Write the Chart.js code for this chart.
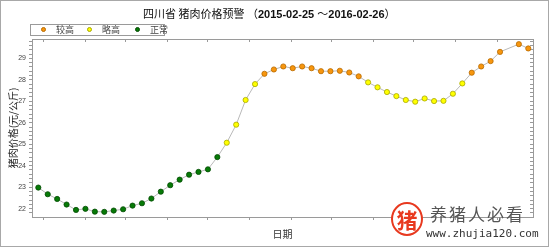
<!DOCTYPE html>
<html><head><meta charset="utf-8">
<script src="https://cdn.jsdelivr.net/npm/chart.js@4/dist/chart.umd.min.js"></script>
<style>
html,body{margin:0;padding:0;background:#fff;}
#wrap{position:relative;width:549px;height:247px;overflow:hidden;background:#fff;}
#c{position:absolute;left:0;top:0;}
#frame{position:absolute;left:0;top:0;width:547px;height:245px;border:1px solid #a8a8a8;pointer-events:none;}
#title{position:absolute;left:143px;top:5px;white-space:nowrap;font-size:11px;line-height:16px;color:#111;}
#title .cn{font-family:"Noto Sans CJK SC";}
#title .en{font-family:"Liberation Sans",Arial,sans-serif;font-weight:bold;}
#legend{position:absolute;left:30px;top:24px;width:133px;height:10px;border:1px solid #9a9a9a;}
.li{position:absolute;top:-3px;font-family:"Noto Sans CJK SC";font-size:9px;line-height:16px;color:#444;white-space:nowrap;}
.dot{position:absolute;top:2px;width:5px;height:5px;border-radius:50%;box-sizing:border-box;border:1px solid;}
#wm-circle{position:absolute;left:391px;top:202px;width:28px;height:30px;border:2px solid #e8391f;border-radius:50%;background:#fff;color:#e8391f;font-family:"Noto Sans CJK SC";font-weight:bold;font-size:21px;line-height:30px;text-align:center;}
#wm-cn{position:absolute;left:430px;top:203px;font-family:"Noto Sans CJK SC";font-size:17px;line-height:22px;letter-spacing:2px;color:#555;white-space:nowrap;}
#wm-url{position:absolute;left:426px;top:227px;font-family:"DejaVu Sans Mono",monospace;font-size:11px;line-height:14px;color:#333;white-space:nowrap;}
</style></head>
<body>
<div id="wrap">
<canvas id="c" width="549" height="247"></canvas>
<div id="title"><span class="cn">四川省 猪肉价格预警 （</span><span class="en">2015-02-25 </span><span class="cn">～</span><span class="en">2016-02-26</span><span class="cn">）</span></div>
<div id="legend"></div>
<div id="wm-circle">猪</div>
<div id="wm-cn">养猪人必看</div>
<div id="wm-url">www.zhujia120.com</div>
<div id="frame"></div>
</div>
<script>
// ---- data (weekly, 2015-02-25 .. 2016-02-26; one week missing at Spring Festival) ----
const prices = [22.98,22.67,22.45,22.19,21.94,21.99,21.86,21.85,21.91,21.97,
                22.14,22.25,22.47,22.79,23.09,23.35,23.58,23.71,23.83,24.40,
                25.07,25.91,27.06,27.80,28.28,28.48,28.62,28.54,28.62,28.54,
                28.40,28.40,28.42,28.34,28.16,27.88,27.65,27.43,27.24,27.06,
                26.98,27.13,27.01,27.02,27.35,27.83,28.33,28.62,28.87,29.30,
                null,29.66,29.46];
// warning level of each week: 0 = 较高, 1 = 略高, 2 = 正常
const levels = [2,2,2,2,2,2,2,2,2,2,
                2,2,2,2,2,2,2,2,2,2,
                1,1,1,1,0,0,0,0,0,0,
                0,0,0,0,0,1,1,1,1,1,
                1,1,1,1,1,1,0,0,0,0,
                0,0,0];
const levelNames = ['较高','略高','正常'];
const levelFill = ['#F7960E','#FFFF00','#077A07'];
const levelEdge = ['#B86A00','#A8A800','#034A03'];
// month boundaries (1st of each month) in weeks from 2015-02-25
const monthTicks = [0.571,5,9.286,13.714,18,22.429,26.857,31.143,35.571,39.857,44.286,48.714];
const yLabelTicks = [22,23,24,25,26,27,28,29];
const yMinorTicks = [21.8,22,22.2,22.4,22.6,22.8,23,23.2,23.4,23.6,23.8,24,24.2,24.4,24.6,24.8,25,25.2,25.4,25.6,25.8,26,26.2,26.4,26.6,26.8,27,27.2,27.4,27.6,27.8,28,28.2,28.4,28.6,28.8,29,29.2,29.4,29.6,29.8];

// legend
const lg = document.getElementById('legend');
const lgX = [8, 54, 102];
levelNames.forEach((n,i)=>{
  const d = document.createElement('div'); d.className='dot';
  d.style.left = (lgX[i]+2)+'px'; d.style.background = levelFill[i]; d.style.borderColor = levelEdge[i];
  lg.appendChild(d);
  const t = document.createElement('div'); t.className='li'; t.textContent=n;
  t.style.left = (lgX[i]+17)+'px'; lg.appendChild(t);
});

const pts = prices.map((v,i)=>({x:i,y:v}));
const axisColor = '#9a9a9a';
const tickFont = {family:'"Liberation Sans", Arial, sans-serif', size:7};
function xAxis(pos, len){
  return {type:'linear', position:pos, min:-0.67, max:52.5,
    afterBuildTicks: s => { s.ticks = monthTicks.map(v=>({value:v})); },
    afterFit: s => { s.height = pos==='bottom' ? 30 : 39; },
    ticks:{callback:()=> '', autoSkip:false, padding:0, font:tickFont},
    grid:{drawOnChartArea:false, drawTicks:true, tickLength:len, tickColor:axisColor},
    border:{display:true, color:axisColor},
    title: pos==='bottom' ? {display:true, text:'日期', color:'#333', font:{family:'"Noto Sans CJK SC"', size:10}, padding:{top:0,bottom:7}} : {display:false}
  };
}
function yAxis(pos, len, labels){
  return {type:'linear', position:pos, min:21.61, max:29.90,
    afterBuildTicks: s => { s.ticks = yMinorTicks.map(v=>({value:v})); },
    afterFit: s => { s.width = pos==='left' ? 32 : 16; },
    ticks:{autoSkip:false, padding:3, color:'#444', font:tickFont,
      callback:(v)=> (labels && yLabelTicks.includes(Math.round(v*10)/10)) ? String(Math.round(v)) : ''},
    grid:{drawOnChartArea:false, drawTicks:true, tickLength:len, tickColor:axisColor},
    border:{display:true, color:axisColor},
    title: labels ? {display:true, text:'猪肉价格(元/公斤)', color:'#222', font:{family:'"Noto Sans CJK SC"', size:10}, padding:{top:7,bottom:0}} : {display:false}
  };
}

new Chart(document.getElementById('c'), {
  type:'line',
  data:{datasets:[{
    data:pts, parsing:true, spanGaps:true,
    borderColor:'#b9b9b9', borderWidth:1, tension:0,
    pointRadius:2.6, pointBorderWidth:0.8,
    pointBackgroundColor: ctx => levelFill[levels[ctx.dataIndex]],
    pointBorderColor: ctx => levelEdge[levels[ctx.dataIndex]]
  }]},
  options:{
    responsive:false, animation:false, devicePixelRatio:1,
    layout:{padding:0},
    plugins:{legend:{display:false}, tooltip:{enabled:false}, title:{display:false}},
    scales:{
      x: xAxis('bottom', 3),
      x2: xAxis('top', -3),
      y: yAxis('left', 3, true),
      y2: yAxis('right', -3, false)
    }
  }
});
</script>
</body></html>
